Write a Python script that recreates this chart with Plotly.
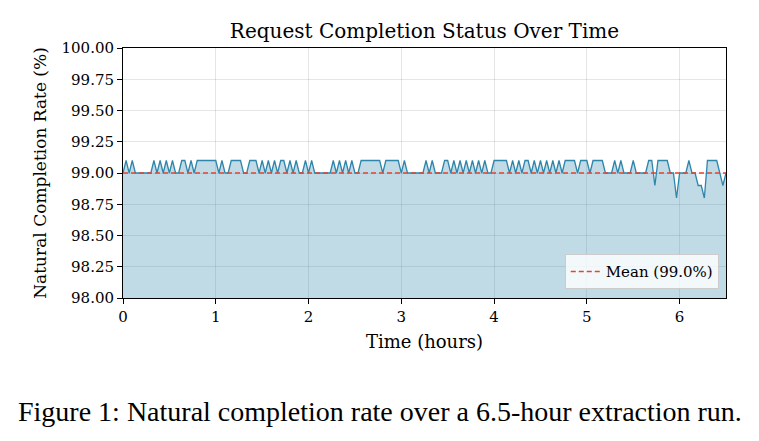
import plotly.graph_objects as go

sample_minutes = 2
completion_rate = [
    99.0, 99.1, 99.0, 99.1, 99.0, 99.0, 99.0, 99.0, 99.0, 99.0,
    99.1, 99.0, 99.1, 99.0, 99.1, 99.0, 99.1, 99.0, 99.0, 99.1,
    99.1, 99.0, 99.1, 99.0, 99.1, 99.1, 99.1, 99.1, 99.1, 99.1,
    99.1, 99.0, 99.1, 99.0, 99.0, 99.1, 99.1, 99.1, 99.1, 99.0,
    99.0, 99.1, 99.1, 99.1, 99.0, 99.1, 99.0, 99.1, 99.0, 99.1,
    99.0, 99.1, 99.1, 99.0, 99.1, 99.0, 99.1, 99.0, 99.0, 99.1,
    99.0, 99.1, 99.0, 99.0, 99.0, 99.0, 99.0, 99.0, 99.1, 99.0,
    99.1, 99.0, 99.1, 99.0, 99.1, 99.0, 99.0, 99.1, 99.1, 99.1,
    99.1, 99.1, 99.1, 99.1, 99.0, 99.1, 99.1, 99.1, 99.1, 99.1,
    99.0, 99.1, 99.0, 99.0, 99.0, 99.0, 99.0, 99.0, 99.1, 99.0,
    99.1, 99.0, 99.0, 99.0, 99.1, 99.1, 99.0, 99.1, 99.0, 99.1,
    99.0, 99.1, 99.0, 99.1, 99.0, 99.1, 99.0, 99.1, 99.0, 99.0,
    99.1, 99.1, 99.1, 99.1, 99.1, 99.0, 99.1, 99.0, 99.1, 99.0,
    99.1, 99.1, 99.0, 99.1, 99.0, 99.1, 99.0, 99.1, 99.0, 99.1,
    99.0, 99.1, 99.0, 99.1, 99.1, 99.1, 99.1, 99.0, 99.1, 99.1,
    99.1, 99.0, 99.1, 99.1, 99.1, 99.1, 99.0, 99.0, 99.0, 99.1,
    99.0, 99.1, 99.0, 99.0, 99.0, 99.1, 99.0, 99.0, 99.0, 99.0,
    99.1, 99.1, 98.9, 99.1, 99.1, 99.1, 99.1, 99.0, 99.0, 98.8,
    99.0, 99.0, 99.0, 99.1, 99.0, 99.0, 98.9, 98.9, 98.8, 99.1,
    99.1, 99.1, 99.1, 99.0, 98.9, 99.0,
]
time_hours = [i * sample_minutes / 60 for i in range(len(completion_rate))]
mean_rate = 99.0
mean_label = "Mean (99.0%)"

x_ticks = [0, 1, 2, 3, 4, 5, 6]
y_ticks = [98.00, 98.25, 98.50, 98.75, 99.00, 99.25, 99.50, 99.75, 100.00]

serif = "DejaVu Serif"

fig = go.Figure()
fig.add_trace(go.Scatter(
    x=time_hours, y=completion_rate, mode="lines",
    line=dict(color="#2e86ab", width=1.3),
    fill="tozeroy", fillcolor="rgba(46,134,171,0.30)",
    showlegend=False, hoverinfo="skip",
))
fig.add_trace(go.Scatter(
    x=[time_hours[0], time_hours[-1]], y=[mean_rate, mean_rate], mode="lines",
    line=dict(color="#e8412f", width=1.5, dash="5px,3px"),
    name=mean_label, showlegend=True,
))

axis_common = dict(
    showline=True, linecolor="black", linewidth=1, mirror=True,
    ticks="outside", ticklen=5, tickcolor="black",
    showgrid=True, gridcolor="rgba(0,0,0,0.10)", gridwidth=1,
    zeroline=False,
    tickfont=dict(family=serif, size=15, color="black"),
)

fig.update_layout(
    width=759, height=441,
    margin=dict(l=123, r=33, t=48, b=143),
    paper_bgcolor="white", plot_bgcolor="white",
    title=dict(text="Request Completion Status Over Time",
               font=dict(family=serif, size=20, color="black"),
               x=0.5, xanchor="center", xref="paper",
               y=1 - 31 / 441, yanchor="middle"),
    xaxis=dict(range=[0, 6.5], tickvals=x_ticks,
               title=dict(text="Time (hours)", font=dict(family=serif, size=18, color="black"), standoff=10),
               **axis_common),
    yaxis=dict(range=[98, 100], tickvals=y_ticks, tickformat=".2f",
               title=dict(text="Natural Completion Rate (%)", font=dict(family=serif, size=17, color="black"), standoff=10),
               **axis_common),
    legend=dict(x=0.988, y=0.035, xanchor="right", yanchor="bottom",
                bgcolor="rgba(255,255,255,0.8)", bordercolor="#cccccc", borderwidth=1,
                font=dict(family=serif, size=15, color="black")),
    showlegend=True,
    annotations=[dict(
        text="Figure 1: Natural completion rate over a 6.5-hour extraction run.",
        xref="paper", yref="paper", x=0.5 - (123 - 33) / 2 / 603, y=-113 / 250,
        xanchor="center", yanchor="middle", showarrow=False,
        font=dict(family="Liberation Serif", size=28, color="black"),
    )],
)

fig.write_html("out.html")
